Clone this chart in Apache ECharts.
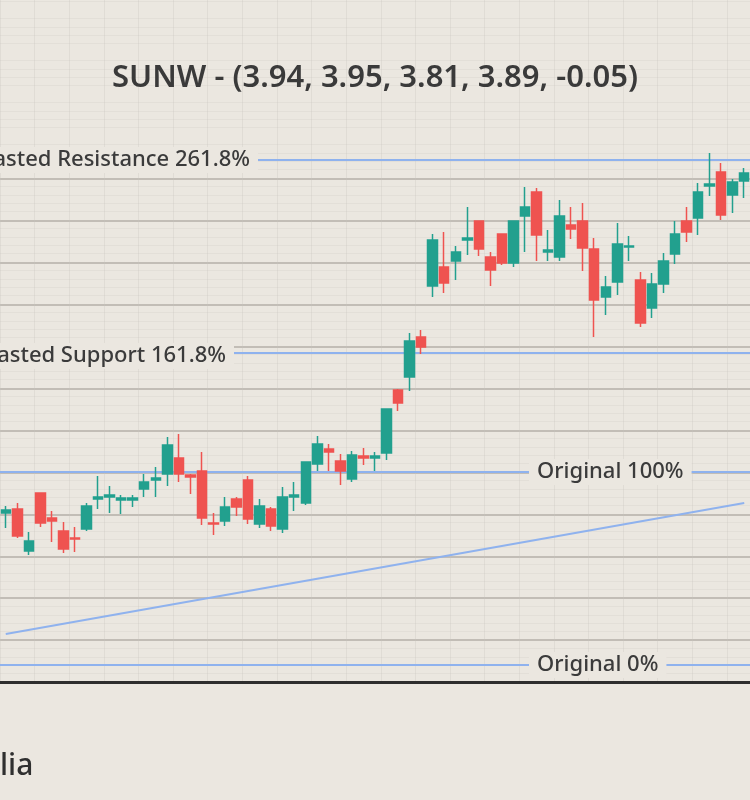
<!DOCTYPE html>
<html><head><meta charset="utf-8">
<script src="https://cdn.jsdelivr.net/npm/echarts@6/dist/echarts.min.js"></script>
<style>html,body{margin:0;padding:0;background:#ebe7e0;}#c{width:750px;height:800px;}</style>
</head><body><div id="c"></div>
<script>
const title = "SUNW - (3.94, 3.95, 3.81, 3.89, -0.05)";
// [open, close, low, high]
const candles = [
[4.006,4.024,3.917,4.048],[4.030,3.869,3.857,4.065],[3.780,3.839,3.756,3.893],[4.125,3.946,3.923,4.125],
[3.976,3.958,3.833,4.018],[3.899,3.792,3.768,3.952],[3.857,3.851,3.774,3.923],[3.911,4.048,3.899,4.065],
[4.089,4.101,4.030,4.226],[4.101,4.113,4.006,4.167],[4.083,4.095,4.000,4.113],[4.083,4.095,4.042,4.113],
[4.149,4.190,4.101,4.238],[4.202,4.214,4.101,4.280],[4.238,4.411,4.167,4.458],[4.333,4.238,4.190,4.476],
[4.232,4.220,4.119,4.238],[4.256,3.976,3.935,4.369],[3.946,3.940,3.875,4.006],[3.958,4.042,3.929,4.101],
[4.089,4.042,3.988,4.101],[4.202,3.970,3.940,4.226],[3.940,4.048,3.917,4.089],[4.030,3.929,3.899,4.042],
[3.911,4.101,3.887,4.161],[4.101,4.113,4.018,4.190],[4.065,4.310,4.054,4.310],[4.298,4.417,4.256,4.464],
[4.387,4.369,4.256,4.417],[4.315,4.256,4.173,4.357],[4.208,4.351,4.190,4.375],[4.345,4.333,4.292,4.393],
[4.333,4.345,4.256,4.369],[4.363,4.625,4.321,4.625],[4.738,4.661,4.613,4.744],[4.815,5.030,4.732,5.077],
[5.054,4.994,4.952,5.095],[5.357,5.631,5.292,5.667],[5.470,5.375,5.315,5.679],[5.506,5.560,5.393,5.595],
[5.631,5.643,5.542,5.827],[5.744,5.577,5.536,5.744],[5.530,5.452,5.357,5.560],[5.667,5.494,5.482,5.667],
[5.494,5.744,5.470,5.744],[5.774,5.827,5.560,5.946],[5.917,5.661,5.506,5.940],[5.560,5.571,5.506,5.690],
[5.530,5.774,5.506,5.869],[5.720,5.696,5.637,5.827],[5.744,5.583,5.446,5.851],[5.577,5.274,5.054,5.643],
[5.292,5.351,5.185,5.417],[5.381,5.607,5.304,5.732],[5.589,5.595,5.506,5.655],[5.393,5.137,5.113,5.440],
[5.226,5.369,5.167,5.435],[5.369,5.506,5.315,5.554],[5.548,5.667,5.488,5.744],[5.744,5.679,5.619,5.827],
[5.762,5.917,5.661,5.970],[5.952,5.964,5.893,6.149],[6.036,5.780,5.750,6.089],[5.899,5.976,5.792,5.994],
[5.982,6.030,5.881,6.060]
];
const categories = candles.map((_, i) => "D" + (i + 1));
const levelNames = ["Original 0%", "Original 100%", "Forecasted Support 161.8%", "Forecasted Resistance 261.8%"];
const levelValues = [3.10, 4.25, 4.961, 6.111];
const trendStart = 3.286, trendEnd = 4.065;
const gridMin = 3, gridMax = 6.0, gridStep = 0.25;
const watermark = "lia";

const chart = echarts.init(document.getElementById('c'));
const bg = '#ebe7e0';
function lbl(text, x, y, align) {
  return {type: 'text', x: x, y: y, z: 100,
    style: {text: text, fontFamily: 'Noto Sans', fontSize: 22, fontWeight: 500, fill: '#3b3b3b',
      align: align, verticalAlign: 'middle', backgroundColor: bg, padding: [2, 8, 2, 8]}};
}
const hidden = {axisLine: {show: false}, axisTick: {show: false}, axisLabel: {show: false}};
chart.setOption({
  backgroundColor: bg,
  animation: false,
  title: {text: title, left: 'center', top: 58,
    textStyle: {fontFamily: 'Noto Sans', fontSize: 31, fontWeight: 600, color: '#3a3a3a'}},
  grid: [
    {left: -0.8, right: -3.8, top: 0, bottom: 118},
    {left: -0.8, right: -3.8, top: 179, bottom: 118}
  ],
  xAxis: [
    {type: 'category', data: categories, boundaryGap: true, gridIndex: 0,
      axisLine: {lineStyle: {color: '#2e2e2e', width: 3}}, axisTick: {show: false}, axisLabel: {show: false},
      splitLine: {show: true, interval: 2, lineStyle: {color: 'rgba(200,195,188,0.3)', width: 1}}},
    Object.assign({type: 'category', data: categories, gridIndex: 1, splitLine: {show: false}}, hidden)
  ],
  yAxis: [
    Object.assign({type: 'value', min: 3, max: 7.0595, gridIndex: 0, interval: 0.25,
      splitLine: {show: false},
      minorSplitLine: {show: true, lineStyle: {color: 'rgba(205,200,192,0.25)', width: 1}}}, hidden),
    Object.assign({type: 'value', min: gridMin, max: gridMax, interval: gridStep, gridIndex: 1,
      splitLine: {lineStyle: {color: '#c2bdb6', width: 2}}}, hidden)
  ],
  series: [{
    type: 'candlestick', data: candles, barWidth: 10, xAxisIndex: 0, yAxisIndex: 0, z: 5,
    itemStyle: {color: '#22a08e', color0: '#ef5350', borderColor: '#22a08e', borderColor0: '#ef5350', borderWidth: 1.5},
    markLine: {symbol: 'none', silent: true, label: {show: false},
      lineStyle: {color: '#8fb2ee', width: 2, type: 'solid'},
      data: levelValues.map(v => ({yAxis: v})).concat([[
        {coord: [0, trendStart]}, {coord: [categories.length - 1, trendEnd]}
      ]])}
  }, {
    type: 'line', data: [], xAxisIndex: 1, yAxisIndex: 1
  }],
  graphic: [
    lbl(levelNames[3], 258, 160, 'right'),
    lbl(levelNames[2], 234, 356, 'right'),
    lbl(levelNames[1], 529, 472, 'left'),
    lbl(levelNames[0], 529, 665, 'left'),
    {type: 'text', x: 0, y: 766, style: {text: watermark, fontFamily: 'Noto Sans', fontSize: 30, fontWeight: 500,
      fill: '#2f2f2f', verticalAlign: 'middle'}}
  ]
});
</script></body></html>
